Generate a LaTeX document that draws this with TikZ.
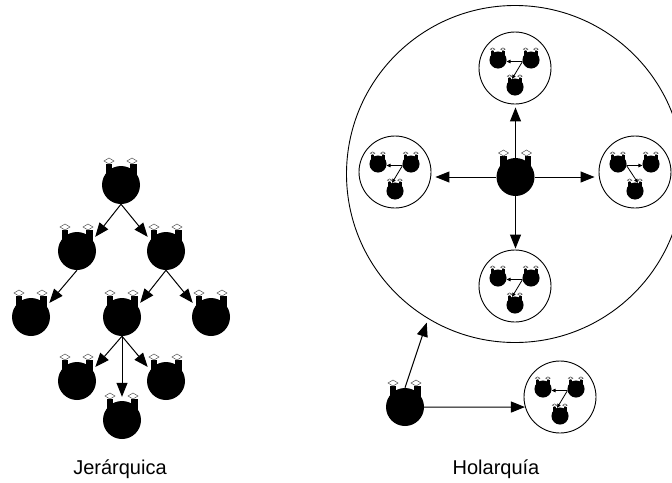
\documentclass[tikz,border=0pt]{standalone}
\usepackage{fontspec}
\setmainfont{Liberation Sans}
\usetikzlibrary{arrows.meta}

\tikzset{
    link/.style={-{Triangle[length=14pt,width=11pt]}, line width=1pt},
    smalllink/.style={-{Triangle[length=4pt,width=3.5pt]}, line width=0.8pt},
    body/.style={circle, fill=black, inner sep=0pt, minimum size=38pt},
    antenna/.style={draw=black!70, fill=white, line width=0.5pt},
    ring/.style={circle, draw=black, line width=0.9pt, inner sep=0pt},
    caption/.style={font=\fontsize{20}{24}\selectfont},
    holon/.pic={
        \fill[black] (-15.5,-21) rectangle (-9,-5);
        \fill[black] (9,-21) rectangle (15.5,-5);
        \draw[antenna] (-17,-24) -- (-12,-27) -- (-7,-24) -- (-12,-21) -- cycle;
        \draw[antenna] (6,-24) -- (11,-27) -- (16,-24) -- (11,-21) -- cycle;
        \node[body] (body) at (0,0) {};
    },
    small/.style={scale=0.45, transform shape}
}

\newcommand{\cluster}[2]{
    \node[ring, minimum size=72pt] (#1) at (#2) {};
    \begin{scope}[shift={(#2)}]
        \pic (#1a) at (-17,-8) [small] {holon};
        \pic (#1b) at (16,-8) [small] {holon};
        \pic (#1c) at (0,19) [small] {holon};
    \end{scope}
}

\begin{document}
\begin{tikzpicture}[x=1pt, y=-1pt]
    \useasboundingbox (0,0) rectangle (672,482);

    % Jerarquica
    \pic (t) at (121,185) {holon};
    \pic (l) at (77,251) {holon};
    \pic (r) at (166,251) {holon};
    \pic (ll) at (31,317) {holon};
    \pic (rl) at (122,317) {holon};
    \pic (rr) at (211,317) {holon};
    \pic (dl) at (77,381) {holon};
    \pic (dr) at (166,381) {holon};
    \pic (dd) at (122,420) {holon};
    \foreach \from/\to/\side in {t/l/35, t/r/145, l/ll/35, r/rl/35, r/rr/145, rl/dl/35, rl/dr/145}
        \draw[link, shorten >=4pt] (\from body.south) -- (\to body.\side);
    \draw[link, shorten >=4pt] (rlbody.south) -- (ddbody.north);
    \node[caption] (jer) at (120,469) {Jerárquica};

    % Holarquia
    \node[ring, minimum size=337pt] (whole) at (515,174) {};
    \pic (core) at (515.5,177) {holon};
    \cluster{up}{515,68}
    \cluster{west}{395,172}
    \cluster{east}{635,172}
    \cluster{down}{515,286}
    \cluster{out}{560,397}
    \foreach \n in {up, west, down, out} {
        \draw[smalllink] (\n bbody.190) -- (\n abody.-10);
        \draw[smalllink] (\n bbody.190) -- (\n cbody.110);
    }
    \draw[smalllink] (eastabody.-10) -- (eastbbody.190);
    \draw[smalllink] (eastabody.-10) -- (eastcbody.70);
    \draw[link, shorten >=3pt] (corebody.north) -- (corebody.north |- up.south);
    \draw[link, shorten >=1pt] (corebody.south) -- (corebody.south |- down.north);
    \draw[link, shorten >=4pt] (corebody.west) -- (corebody.west -| west.east);
    \draw[link, shorten >=4pt] (corebody.east) -- (corebody.east -| east.west);
    \pic (free) at (405,407) {holon};
    \draw[link, shorten >=4pt] (freebody.north) -- (whole.239);
    \draw[link] (freebody.east) -- (out.196);
    \node[caption] (hol) at (496,469) {Holarquía};
\end{tikzpicture}
\end{document}
